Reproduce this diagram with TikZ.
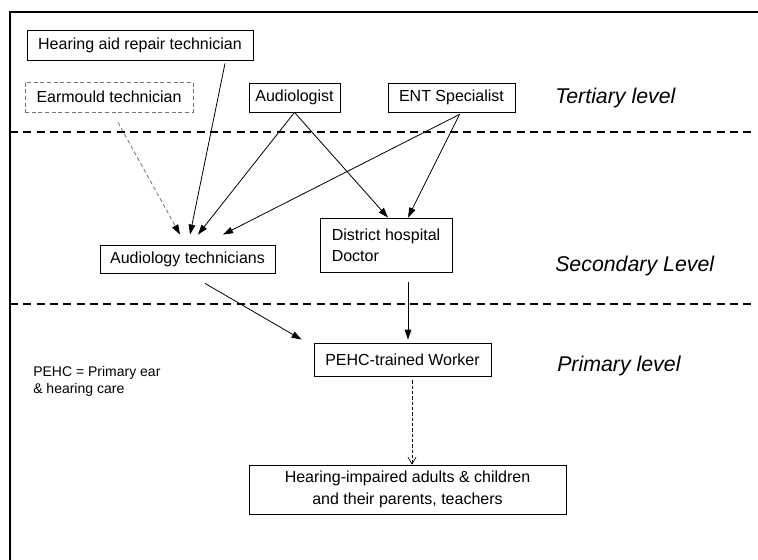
\documentclass[tikz,border=0pt]{standalone}
\usepackage{fontspec}
\setmainfont{Liberation Sans}
\usetikzlibrary{arrows.meta,calc}
\begin{document}
\begin{tikzpicture}[x=0.75pt,y=-0.75pt,
    box/.style={draw,line width=0.6pt,inner sep=0pt,align=center,font=\fontsize{12}{16}\selectfont},
    level/.style={anchor=west,inner sep=0pt,font=\fontsize{16}{19}\selectfont\itshape},
    arr/.style={line width=0.6pt,-{Triangle[length=7.5pt,width=5pt,color=black]}},
    faint/.style={draw=black!55,dash pattern=on 3pt off 2pt}]
  \useasboundingbox (0,0) rectangle (758,560);
  \draw[line width=1pt] (758,12) -- (10,12) -- (10,560);
  \draw[line width=1.3pt,dash pattern=on 6pt off 4pt] (10,132) -- (752,132);
  \draw[line width=1.3pt,dash pattern=on 6pt off 4pt] (10,304) -- (752,304);

  \node[box,minimum width=169.5pt,minimum height=22.5pt] (repair) at (140,45) {Hearing aid repair technician};
  \node[box,faint,minimum width=126pt,minimum height=22.5pt] (earmould) at (109,97) {Earmould technician};
  \node[box,minimum width=68.25pt,minimum height=21.75pt] (audiologist) at (294.5,97.5) {Audiologist};
  \node[box,minimum width=95.25pt,minimum height=21.75pt] (ent) at (451.5,97.5) {ENT Specialist};
  \node[box,minimum width=131.25pt,minimum height=21pt] (technicians) at (187.5,259) {Audiology technicians};
  \node[box,align=left,minimum width=99pt,minimum height=40.5pt] (doctor) at (386,245) {District hospital\\Doctor};
  \node[box,minimum width=132.75pt,minimum height=24.75pt] (worker) at (402.5,359.5) {PEHC-trained Worker};
  \node[box,minimum width=237.75pt,minimum height=36.75pt] (impaired) at (407.5,489.5) {Hearing-impaired adults \& children\\and their parents, teachers};

  \node[level] (tertiary) at (555,98) {Tertiary level};
  \node[level] (secondary) at (555,266) {Secondary Level};
  \node[level] (primary) at (557,366) {Primary level};
  \node[anchor=west,align=left,inner sep=0pt,font=\fontsize{10.5}{12.75}\selectfont] (pehc) at (33,381.5) {PEHC = Primary ear\\\& hearing care};

  \coordinate (entfoot) at ($(ent.south)+(8,2)$);
  \draw[arr,faint] ($(earmould.south)+(9,10)$) -- ($(technicians.north)+(-7.5,-10)$);
  \draw[arr] ($(repair.south)+(85,3)$) -- ($(technicians.north)+(2.5,-10)$);
  \draw[arr] (audiologist.south) -- ($(technicians.north)+(10.5,-10)$);
  \draw[arr] (entfoot) -- ($(technicians.north)+(35.5,-10)$);
  \draw[arr] (audiologist.south) -- ($(doctor.north)+(2,0)$);
  \draw[arr] (entfoot) -- ($(doctor.north)+(22,0)$);
  \draw[arr] ($(technicians.south)+(17.5,10)$) -- ($(worker.north west)+(-12,-3)$);
  \draw[arr] ($(doctor.south)+(22,10)$) -- ($(worker.north)+(5.5,-3)$);
  \coordinate (workerfoot) at ($(worker.south)+(9.5,4)$);
  \draw[line width=0.5pt,dash pattern=on 2.5pt off 1.5pt,-{Straight Barb[length=5pt,width=6pt]}] (workerfoot) -- (workerfoot |- impaired.north);
\end{tikzpicture}
\end{document}
